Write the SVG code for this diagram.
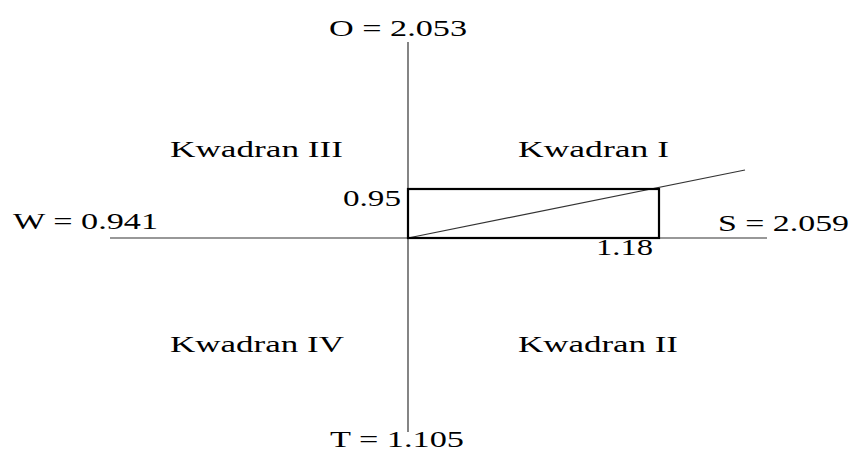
<svg xmlns="http://www.w3.org/2000/svg" width="852" height="451" viewBox="0 0 852 451">
<style>
text{font-family:"Liberation Serif","Times New Roman",serif;font-size:24px;fill:#000}
.ax{stroke:#333;stroke-width:1.2;fill:none}
.box{stroke:#000;stroke-width:2.2;fill:none}
</style>
<rect width="852" height="451" fill="#fff"/>
<g id="connectors">
<line class="ax" x1="408" y1="42" x2="408" y2="432"/>
<line class="ax" x1="110" y1="238" x2="767" y2="238"/>
<line class="ax" x1="408" y1="238" x2="745" y2="170"/>
</g>
<g id="box"><rect class="box" x="408" y="189" width="251" height="49"/></g>
<g id="labels">
<text x="329" y="36" textLength="138" lengthAdjust="spacingAndGlyphs">O = 2.053</text>
<text x="330" y="447" textLength="134" lengthAdjust="spacingAndGlyphs">T = 1.105</text>
<text x="13" y="229" textLength="145" lengthAdjust="spacingAndGlyphs">W = 0.941</text>
<text x="718" y="231" textLength="131" lengthAdjust="spacingAndGlyphs">S = 2.059</text>
<text x="343" y="206" textLength="58" lengthAdjust="spacingAndGlyphs">0.95</text>
<text x="596" y="255" textLength="57" lengthAdjust="spacingAndGlyphs">1.18</text>
<text x="170" y="157" textLength="173" lengthAdjust="spacingAndGlyphs">Kwadran III</text>
<text x="518" y="157" textLength="151" lengthAdjust="spacingAndGlyphs">Kwadran I</text>
<text x="170" y="352" textLength="174" lengthAdjust="spacingAndGlyphs">Kwadran IV</text>
<text x="518" y="352" textLength="160" lengthAdjust="spacingAndGlyphs">Kwadran II</text>
</g>
</svg>
